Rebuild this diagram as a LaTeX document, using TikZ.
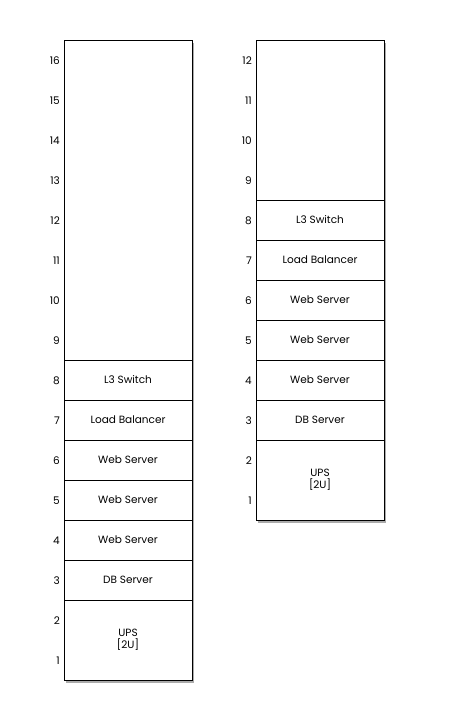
\documentclass[tikz,border=0pt]{standalone}
\usepackage{fontspec}
\setmainfont{Poppins}
\usepackage{tikz}
\usetikzlibrary{
    positioning,
    shadows
}
\tikzset{
    rack/.style={
        rectangle,
        draw=black,
        line width=1pt,
        fill=white,
        drop shadow={shadow xshift=2pt, shadow yshift=-2.5pt, fill=black!55, opacity=0.6},
        minimum width=128pt,
        inner sep=0pt,
        outer sep=0pt
    },
    unit/.style={
        rectangle,
        draw=black,
        line width=0.8pt,
        align=center,
        minimum width=128pt,
        minimum height=40pt,
        inner sep=0pt,
        outer sep=0pt,
        font=\fontsize{10.5}{12.5}\selectfont
    },
    slot/.style={
        anchor=east,
        inner sep=0pt,
        font=\fontsize{10.5}{12.5}\selectfont
    }
}

\begin{document}
\begin{tikzpicture}[x=1pt, y=-1pt, node distance=0pt]
\useasboundingbox (0,0) rectangle (448,720);

% left rack, 16U
\node[rack, minimum height=640pt, anchor=north west] (lrack) at (64,40) {};
\node[unit, minimum height=320pt, anchor=north west] (lfree) at (64,40) {};
\node[unit, below=of lfree] (lswitch) {L3 Switch};
\node[unit, below=of lswitch] (llb) {Load Balancer};
\node[unit, below=of llb] (lweba) {Web Server};
\node[unit, below=of lweba] (lwebb) {Web Server};
\node[unit, below=of lwebb] (lwebc) {Web Server};
\node[unit, below=of lwebc] (ldb) {DB Server};
\node[unit, minimum height=80pt, below=of ldb] (lups) {UPS\\{[2U]}};

\foreach \u in {1,...,16}
    \node[slot] (lnum\u) at (60,700.5-40*\u) {\u};

% right rack, 12U
\node[rack, minimum height=480pt, anchor=north west] (rrack) at (256,40) {};
\node[unit, minimum height=160pt, anchor=north west] (rfree) at (256,40) {};
\node[unit, below=of rfree] (rswitch) {L3 Switch};
\node[unit, below=of rswitch] (rlb) {Load Balancer};
\node[unit, below=of rlb] (rweba) {Web Server};
\node[unit, below=of rweba] (rwebb) {Web Server};
\node[unit, below=of rwebb] (rwebc) {Web Server};
\node[unit, below=of rwebc] (rdb) {DB Server};
\node[unit, minimum height=80pt, below=of rdb] (rups) {UPS\\{[2U]}};

\foreach \u in {1,...,12}
    \node[slot] (rnum\u) at (252,540.5-40*\u) {\u};
\end{tikzpicture}
\end{document}
